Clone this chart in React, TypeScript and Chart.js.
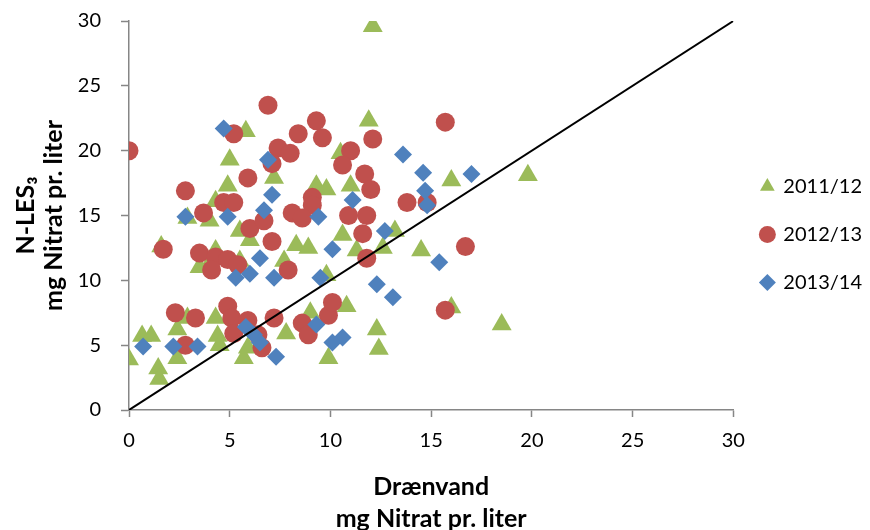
import React, { useEffect, useRef } from "react";
import { Chart, registerables } from "chart.js";

Chart.register(...registerables);

const seriesNames = ["2011/12", "2012/13", "2013/14"];

const x2011 = [12.1, 11.9, 5.8, 5.0, 4.9, 7.2, 4.3, 4.0, 2.9, 1.6, 5.5, 6.0, 8.3, 8.9, 9.3, 9.8, 7.7, 5.5, 4.0, 3.5, 16.0, 19.8, 11.0, 10.6, 13.2, 14.5, 11.3, 12.6, 10.5, 9.8, 0.0, 0.65, 1.1, 1.45, 1.5, 2.9, 2.4, 2.4, 4.3, 4.4, 4.5, 5.7, 7.8, 9.0, 9.9, 5.9, 10.8, 12.3, 12.4, 16.0, 18.5, 4.3];
const y2011 = [29.6, 22.3, 21.5, 19.3, 17.3, 17.9, 16.1, 14.6, 14.8, 12.6, 13.8, 13.1, 12.7, 12.5, 17.3, 17.0, 11.5, 11.5, 11.3, 11.0, 17.7, 18.1, 17.3, 13.5, 13.8, 12.3, 12.3, 12.5, 19.8, 10.4, 3.9, 5.7, 5.7, 3.2, 2.4, 7.1, 6.2, 4.0, 7.1, 5.7, 5.0, 4.0, 5.9, 7.5, 4.0, 4.8, 8.0, 6.2, 4.7, 7.9, 6.6, 12.3];

const x2012 = [6.9, 9.3, 8.4, 9.6, 0.0, 7.4, 8.0, 5.2, 7.1, 5.9, 2.8, 4.7, 5.2, 3.7, 6.0, 6.7, 8.1, 9.1, 9.1, 8.6, 7.1, 1.7, 3.5, 4.3, 4.9, 5.4, 4.1, 7.9, 12.1, 15.7, 11.0, 10.6, 11.7, 12.0, 13.8, 14.8, 10.9, 11.8, 11.6, 11.8, 16.7, 2.3, 3.3, 2.8, 4.9, 5.1, 5.9, 5.2, 6.4, 6.6, 7.2, 8.6, 8.9, 9.9, 10.1, 15.7];
const y2012 = [23.5, 22.3, 21.3, 21.0, 20.0, 20.2, 19.8, 21.3, 19.0, 17.9, 16.9, 16.0, 16.0, 15.2, 14.0, 14.6, 15.2, 16.4, 15.8, 14.8, 13.0, 12.4, 12.1, 11.8, 11.6, 11.2, 10.8, 10.8, 20.9, 22.2, 20.0, 18.9, 18.2, 17.0, 16.0, 16.0, 15.0, 15.0, 13.6, 11.7, 12.6, 7.5, 7.1, 5.0, 8.0, 7.1, 6.9, 5.9, 5.8, 4.8, 7.1, 6.7, 5.8, 7.3, 8.3, 7.7];

const x2013 = [4.7, 6.9, 7.1, 6.7, 4.9, 2.8, 6.5, 9.4, 6.0, 5.3, 7.2, 9.5, 13.6, 14.6, 17.0, 14.7, 14.8, 11.1, 12.7, 10.1, 15.4, 12.3, 13.1, 10.6, 10.1, 9.3, 0.7, 2.2, 3.4, 5.8, 6.2, 6.5, 7.3];
const y2013 = [21.7, 19.3, 16.6, 15.4, 14.9, 14.9, 11.7, 14.9, 10.5, 10.2, 10.2, 10.2, 19.7, 18.3, 18.2, 16.9, 15.8, 16.2, 13.8, 12.4, 11.4, 9.7, 8.7, 5.6, 5.2, 6.6, 4.9, 4.9, 4.9, 6.4, 5.8, 5.2, 4.1];

const refLine = [0, 30];
const axisMin = 0;
const axisMax = 30;
const axisStep = 5;

const xTitle = ["Drænvand", "mg Nitrat pr. liter"];
const yTitle = ["N-LES₃", "mg Nitrat pr. liter"];

const FONT = "Lato, 'Open Sans', sans-serif";
const AXIS_GREY = "#868686";

const toPts = (xs: number[], ys: number[]) => xs.map((x, i) => ({ x, y: ys[i] }));

export default function App() {
  const ref = useRef<HTMLCanvasElement>(null);

  useEffect(() => {
    const chart = new Chart(ref.current as HTMLCanvasElement, {
      type: "scatter",
      data: {
        datasets: [
          {
            label: "1:1",
            type: "line",
            data: toPts(refLine, refLine),
            borderColor: "#000",
            borderWidth: 2,
            pointRadius: 0,
            showLine: true,
            fill: false,
            order: 0,
          } as any,
          {
            label: seriesNames[0],
            data: toPts(x2011, y2011),
            pointStyle: "triangle",
            pointRadius: 11.5,
            backgroundColor: "#9BBB59",
            borderColor: "#9BBB59",
            borderWidth: 0,
            order: 3,
          },
          {
            label: seriesNames[1],
            data: toPts(x2012, y2012),
            pointStyle: "circle",
            pointRadius: 9.5,
            backgroundColor: "#C0504D",
            borderColor: "#C0504D",
            borderWidth: 0,
            order: 2,
          },
          {
            label: seriesNames[2],
            data: toPts(x2013, y2013),
            pointStyle: "rectRot",
            pointRadius: 9,
            backgroundColor: "#4F81BD",
            borderColor: "#4F81BD",
            borderWidth: 0,
            order: 1,
          },
        ],
      },
      options: {
        animation: false,
        responsive: false,
        maintainAspectRatio: false,
        layout: { padding: { top: 21, right: -2, left: 0, bottom: 0 } },
        plugins: {
          tooltip: { enabled: false },
          legend: {
            position: "right",
            fullSize: false,
            align: "center",
            title: { display: true, text: "", padding: 7, font: { size: 20 } },
            labels: {
              usePointStyle: true,
              boxWidth: 12,
              boxHeight: 12,
              padding: 28,
              color: "#000",
              font: { family: FONT, size: 20 },
              filter: (item: any) => item.text !== "1:1",
              sort: (a: any, b: any) => a.datasetIndex - b.datasetIndex,
            },
          },
        },
        scales: {
          x: {
            type: "linear",
            min: axisMin,
            max: axisMax,
            ticks: { stepSize: axisStep, color: "#000", font: { family: FONT, size: 20 }, padding: 12 },
            grid: { display: true, drawOnChartArea: false, drawTicks: true, tickLength: 7, tickColor: AXIS_GREY, tickWidth: 1.5 },
            border: { display: true, color: AXIS_GREY, width: 1.5 },
            title: {
              display: true,
              text: xTitle,
              color: "#000",
              font: { family: FONT, size: 25, weight: "bold", lineHeight: 1.28 },
              padding: { top: 0, bottom: -5 },
            },
            afterFit: (s: any) => {
              s.height = 120;
            },
          },
          y: {
            type: "linear",
            min: axisMin,
            max: axisMax,
            ticks: { stepSize: axisStep, color: "#000", font: { family: FONT, size: 20 }, padding: 20 },
            grid: { display: true, drawOnChartArea: false, drawTicks: true, tickLength: 8, tickColor: AXIS_GREY, tickWidth: 1.5 },
            border: { display: true, color: AXIS_GREY, width: 1.5 },
            title: {
              display: true,
              text: yTitle,
              color: "#000",
              font: { family: FONT, size: 25, weight: "bold", lineHeight: 1.12 },
              padding: { top: 12, bottom: 0 },
            },
            afterFit: (s: any) => {
              s.width = 129;
              s.paddingTop = 12;
              s.paddingBottom = 12;
            },
          },
        },
      } as any,
    });
    return () => chart.destroy();
  }, []);

  return (
    <div style={{ position: "fixed", left: 0, top: 0, width: 870, height: 530, background: "#fff" }}>
      <canvas ref={ref} width={870} height={530} style={{ width: 870, height: 530, display: "block" }} />
    </div>
  );
}
